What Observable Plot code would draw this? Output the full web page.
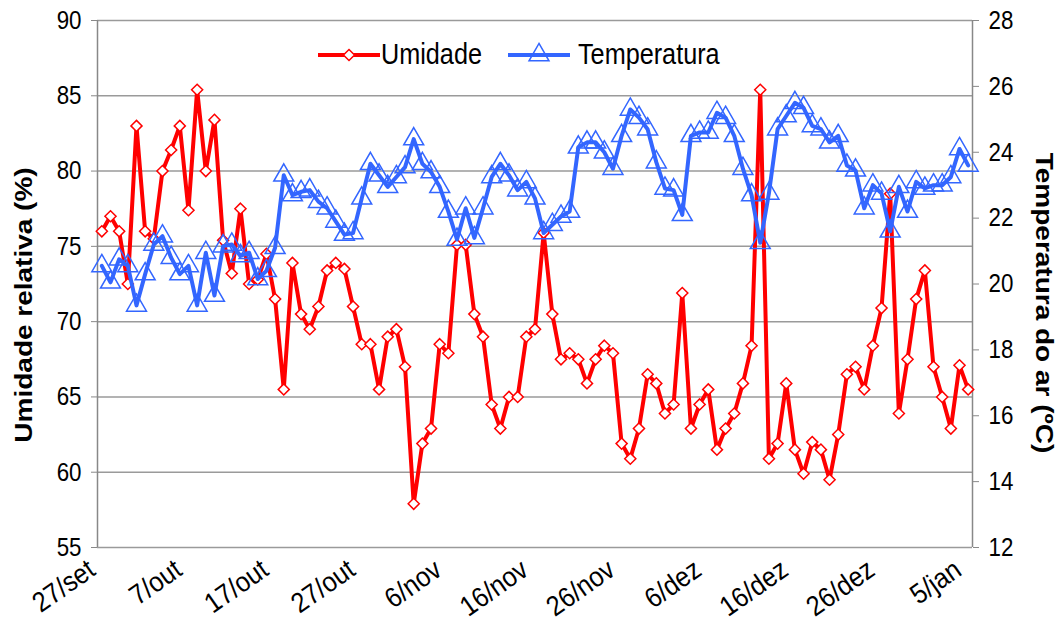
<!DOCTYPE html>
<html><head><meta charset="utf-8">
<script src="https://cdn.jsdelivr.net/npm/d3@7"></script>
<script src="https://cdn.jsdelivr.net/npm/@observablehq/plot@0.6"></script>
<style>
html,body{margin:0;padding:0;background:#fff;}
#wrap{position:relative;width:1063px;height:631px;overflow:hidden;}
#overlay{position:absolute;left:0;top:0;pointer-events:none;}
</style></head><body>
<div id="wrap"><div id="chart"></div><svg id="overlay" width="1063" height="631"></svg></div>
<script>
// ---- data ----
const startDate = "2008-09-27"; // first day (27/set), one value per day
const umidade = [76.0,77.0,76.0,72.5,83.0,76.0,75.5,80.0,81.4,83.0,77.4,85.4,80.0,83.4,75.4,73.2,77.5,72.5,72.8,74.5,
71.5,65.5,73.9,70.5,69.5,71.0,73.4,73.9,73.5,71.0,68.5,68.5,65.5,69.0,69.5,67.0,57.9,61.9,62.9,68.5,
67.9,75.1,75.1,70.5,69.0,64.5,62.9,65.0,65.0,69.0,69.5,75.9,70.5,67.5,67.9,67.5,65.9,67.5,68.4,67.9,
61.9,60.9,62.9,66.5,65.9,63.9,64.5,71.9,62.9,64.5,65.5,61.5,62.9,63.9,65.9,68.4,85.4,60.9,61.9,65.9,
61.5,59.9,62.0,61.5,59.5,62.5,66.5,67.0,65.5,68.4,70.9,78.5,63.9,67.5,71.5,73.4,67.0,65.0,62.9,67.1,65.5];
const temperatura = [20.55,20.05,20.75,20.55,19.35,20.3,21.2,21.45,20.8,20.3,20.55,19.35,20.95,19.65,21.15,21.2,20.85,20.95,20.15,20.4,
21.1,23.3,22.7,22.8,22.85,22.5,22.3,21.9,21.5,21.55,22.6,23.65,23.3,22.95,23.25,23.55,24.4,23.65,23.4,22.95,
22.2,21.35,22.3,21.4,22.3,23.25,23.65,23.3,22.85,23.1,22.6,21.55,21.8,22.05,22.2,24.15,24.3,24.3,24.0,23.5,
24.5,25.3,25.05,24.7,23.7,22.9,22.85,22.1,24.5,24.6,24.6,25.2,25.05,24.5,23.5,22.7,21.25,22.75,24.7,25.1,
25.5,25.35,24.8,24.7,24.3,24.5,23.6,23.45,22.3,23.0,22.75,21.6,22.95,22.2,23.1,22.9,23.0,23.0,23.25,24.1,23.6];
const xTickLabels = ["27/set","7/out","17/out","27/out","6/nov","16/nov","26/nov","6/dez","16/dez","26/dez","5/jan"];
const leftTicks = [55,60,65,70,75,80,85,90];
const rightTicks = [12,14,16,18,20,22,24,26,28];
const seriesNames = ["Umidade","Temperatura"];
const axisTitles = ["Umidade relativa (%)","Temperatura do ar (ºC)"];

// ---- derived ----
const RED = "#ff0000", BLUE = "#3366ff";
const FONT = "'Liberation Sans',Arial,sans-serif";
const start = new Date(startDate + "T00:00:00Z");
const rows = umidade.map((u, i) => ({date: d3.utcDay.offset(start, i), u, t: temperatura[i]}));
const tickDates = xTickLabels.map((_, i) => d3.utcDay.offset(start, i * 10));
const tickLabelByTime = new Map(tickDates.map((d, i) => [+d, xTickLabels[i]]));
const hDomain = [leftTicks[0], leftTicks[leftTicks.length - 1]];
const tDomain = [rightTicks[0], rightTicks[rightTicks.length - 1]];
const t2h = d3.scaleLinear(tDomain, hDomain);
const xDomain = [d3.utcHour.offset(rows[0].date, -12), d3.utcHour.offset(rows[rows.length - 1].date, 12)];

const chart = Plot.plot({
  width: 1063, height: 631,
  marginLeft: 97, marginRight: 91, marginTop: 20, marginBottom: 84,
  style: {fontFamily: FONT, fontSize: "24px", color: "#000", background: "#fff", overflow: "visible"},
  x: {type: "utc", domain: xDomain},
  y: {domain: hDomain},
  marks: [
    Plot.ruleY(leftTicks, {stroke: "#9a9a9a", strokeWidth: 1.5}),
    Plot.ruleX(xDomain, {stroke: "#888", strokeWidth: 1.5}),
    Plot.axisY(leftTicks, {anchor: "left", tickSize: 6, tickPadding: 10, stroke: "#888", fontSize: 26, label: null}),
    Plot.axisY(rightTicks.map(t2h), {anchor: "right", tickSize: 6, tickPadding: 10, stroke: "#888", fontSize: 26,
      tickFormat: h => d3.format("d")(Math.round(t2h.invert(h))), label: null}),
    Plot.axisX(tickDates, {anchor: "bottom", tickSize: 0, tickRotate: -35, tickPadding: 19, fontSize: 28, dx: -10,
      tickFormat: d => tickLabelByTime.get(+d), label: null}),
    Plot.line(rows, {x: "date", y: "u", stroke: RED, strokeWidth: 4}),
    Plot.dot(rows, {x: "date", y: "u", symbol: "diamond2", r: 5, stroke: RED, strokeWidth: 1.5, fill: "#fff"}),
    Plot.line(rows, {x: "date", y: d => t2h(d.t), stroke: BLUE, strokeWidth: 4}),
    Plot.dot(rows, {x: "date", y: d => t2h(d.t), symbol: "triangle", r: 7.4, stroke: BLUE, strokeWidth: 1.5, fill: "none"})
  ]
});
document.getElementById("chart").append(chart);

// narrow the tick label glyphs (condensed look of the original)
function narrow(sel, sx) {
  sel.each(function() {
    const t = this.getAttribute("transform") || "";
    this.setAttribute("transform", `${t} scale(${sx},1)`);
  });
}
const svg = d3.select(chart);
narrow(svg.selectAll("g[aria-label='y-axis tick label'] text"), 0.86);
narrow(svg.selectAll("g[aria-label='x-axis tick label'] text"), 0.9);

// ---- legend & axis titles (overlay) ----
const ov = d3.select("#overlay");
const legendItems = [
  {name: seriesNames[0], color: RED, x: 318, sym: "diamond2", r: 5, fill: "#fff"},
  {name: seriesNames[1], color: BLUE, x: 508, sym: "triangle", r: 7.4, fill: "none"}
];
const symMap = {diamond2: d3.symbolDiamond2, triangle: d3.symbolTriangle};
for (const it of legendItems) {
  const g = ov.append("g").attr("transform", `translate(${it.x},55)`);
  g.append("line").attr("x1", 0).attr("x2", 62).attr("stroke", it.color).attr("stroke-width", 4);
  g.append("path").attr("transform", "translate(31,0)")
    .attr("d", d3.symbol(symMap[it.sym], Math.PI * it.r * it.r)())
    .attr("stroke", it.color).attr("stroke-width", 1.5).attr("fill", it.fill);
  g.append("text").attr("transform", `translate(${it.x === 318 ? 63 : 70},9) scale(0.87,1)`)
    .attr("font-family", FONT).attr("font-size", 29).text(it.name);
}
ov.append("text").attr("transform", "translate(32,305) rotate(-90) scale(1,0.88)").attr("text-anchor", "middle")
  .attr("font-family", FONT).attr("font-weight", "bold").attr("font-size", 28).text(axisTitles[0]);
ov.append("text").attr("transform", "translate(1036,303) rotate(90) scale(1,0.88)").attr("text-anchor", "middle")
  .attr("font-family", FONT).attr("font-weight", "bold").attr("font-size", 28).text(axisTitles[1]);
</script>
</body></html>
